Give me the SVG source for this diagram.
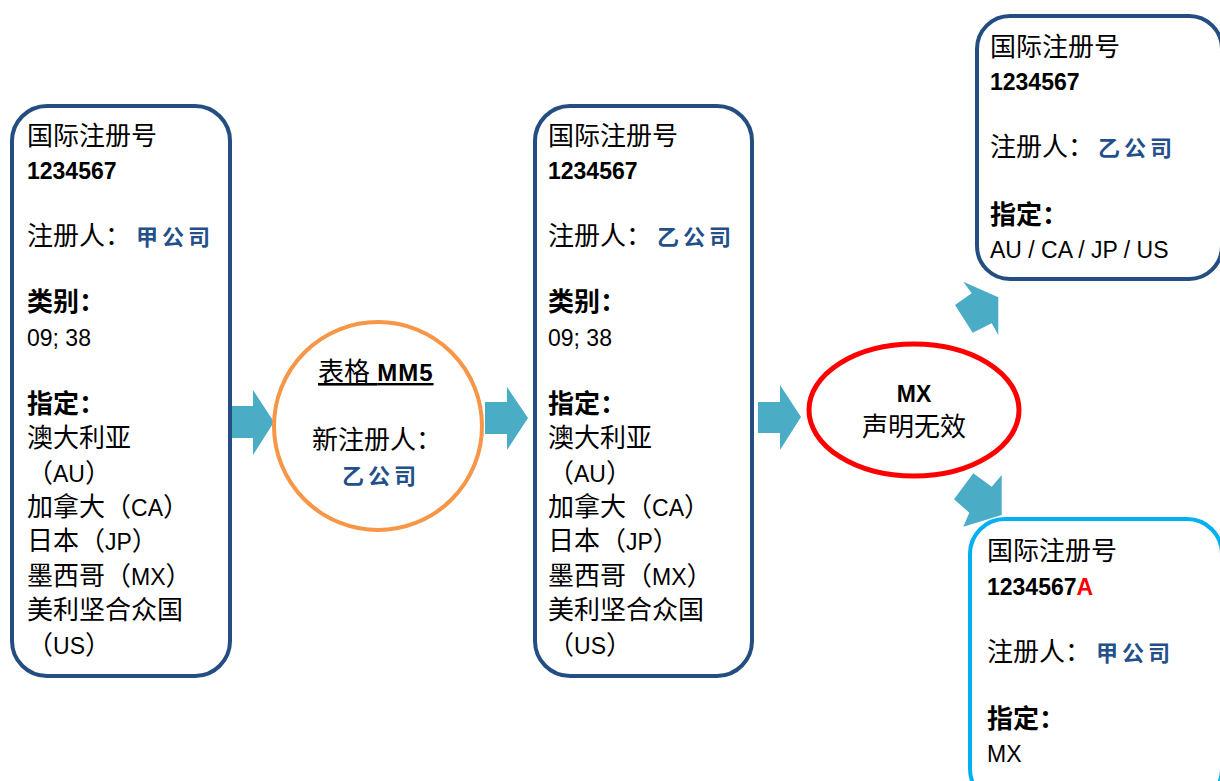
<svg xmlns="http://www.w3.org/2000/svg" width="1220" height="781" viewBox="0 0 1220 781">
<style>
.box{fill:#fff;stroke:#244E82;stroke-width:4}
.box2{fill:#fff;stroke:#00B0F0;stroke-width:4}
.arr{fill:#4BACC6;stroke:none}
.t{font-family:"Liberation Sans","Noto Sans CJK SC",sans-serif;font-size:26px;fill:#000}
.l{font-size:23px}
.b{font-weight:bold}
.co{fill:#24508A;font-size:22px;letter-spacing:4px;font-weight:bold}
.red{fill:#FF0000}
</style>
<rect width="1220" height="781" fill="#fff"/>
<g id="connectors">
<polygon class="arr" points="231,406 253,406 253,390 274,422 253,455 253,438 231,438"/>
<polygon class="arr" points="485,402 507,402 507,387 528,418 507,450 507,434 485,434"/>
<polygon class="arr" points="758,402 780,402 780,385 801,417 780,450 780,433 758,433"/>
<polygon class="arr" points="963.3,281.7 998.3,297.3 998.3,335 991.7,323.3 972.7,332.7 955,305 971.7,293.3"/>
<polygon class="arr" points="973.3,473.3 991.7,486.7 1001.7,475 1001.7,515 963.3,526.7 969.3,512.7 954,499.3"/>
</g>
<g id="node-original">
<rect class="box" x="12" y="106" width="218" height="570" rx="35"/>
<text class="t" x="27" y="145">国际注册号</text>
<text class="t b l" x="27" y="179">1234567</text>
<text class="t" x="27" y="245">注册人：<tspan class="co" dx="5">甲公司</tspan></text>
<text class="t b" x="27" y="311">类别：</text>
<text class="t l" x="27" y="346">09; 38</text>
<text class="t b" x="27" y="413">指定：</text>
<text class="t" x="27" y="447">澳大利亚</text>
<text class="t" x="27" y="482">（<tspan class="l">AU</tspan>）</text>
<text class="t" x="27" y="516">加拿大（<tspan class="l">CA</tspan>）</text>
<text class="t" x="27" y="550">日本（<tspan class="l">JP</tspan>）</text>
<text class="t" x="27" y="585">墨西哥（<tspan class="l">MX</tspan>）</text>
<text class="t" x="27" y="619">美利坚合众国</text>
<text class="t" x="27" y="654">（<tspan class="l">US</tspan>）</text>
</g>
<g id="node-mm5">
<circle cx="378" cy="426" r="104" fill="#fff" stroke="#F79646" stroke-width="4"/>
<text class="t" x="318" y="381" text-decoration="underline">表格 <tspan class="b" font-size="24px" letter-spacing="1px">MM5</tspan></text>
<text class="t" x="312" y="449">新注册人：</text>
<text class="t co" x="342" y="484">乙公司</text>
</g>
<g id="node-changed">
<rect class="box" x="535" y="106" width="217" height="570" rx="35"/>
<text class="t" x="548" y="145">国际注册号</text>
<text class="t b l" x="548" y="179">1234567</text>
<text class="t" x="548" y="245">注册人：<tspan class="co" dx="5">乙公司</tspan></text>
<text class="t b" x="548" y="311">类别：</text>
<text class="t l" x="548" y="346">09; 38</text>
<text class="t b" x="548" y="413">指定：</text>
<text class="t" x="548" y="447">澳大利亚</text>
<text class="t" x="548" y="482">（<tspan class="l">AU</tspan>）</text>
<text class="t" x="548" y="516">加拿大（<tspan class="l">CA</tspan>）</text>
<text class="t" x="548" y="550">日本（<tspan class="l">JP</tspan>）</text>
<text class="t" x="548" y="585">墨西哥（<tspan class="l">MX</tspan>）</text>
<text class="t" x="548" y="619">美利坚合众国</text>
<text class="t" x="548" y="654">（<tspan class="l">US</tspan>）</text>
</g>
<g id="node-mx">
<ellipse cx="914" cy="410" rx="105" ry="66" fill="#fff" stroke="#FF0000" stroke-width="5"/>
<text class="t b l" x="914" y="402" text-anchor="middle">MX</text>
<text class="t" x="914" y="436" text-anchor="middle">声明无效</text>
</g>
<g id="node-remaining">
<rect class="box" x="977" y="16" width="245" height="263" rx="33"/>
<text class="t" x="990" y="56">国际注册号</text>
<text class="t b l" x="990" y="90">1234567</text>
<text class="t" x="990" y="156">注册人：<tspan class="co" dx="4">乙公司</tspan></text>
<text class="t b" x="990" y="224">指定：</text>
<text class="t l" x="990" y="258">AU / CA / JP / US</text>
</g>
<g id="node-divided">
<rect class="box2" x="970" y="519" width="252" height="285" rx="35"/>
<text class="t" x="987" y="560">国际注册号</text>
<text class="t b l" x="987" y="595">1234567<tspan class="red">A</tspan></text>
<text class="t" x="987" y="661">注册人：<tspan class="co" dx="5">甲公司</tspan></text>
<text class="t b" x="987" y="728">指定：</text>
<text class="t l" x="987" y="762">MX</text>
</g>
</svg>
